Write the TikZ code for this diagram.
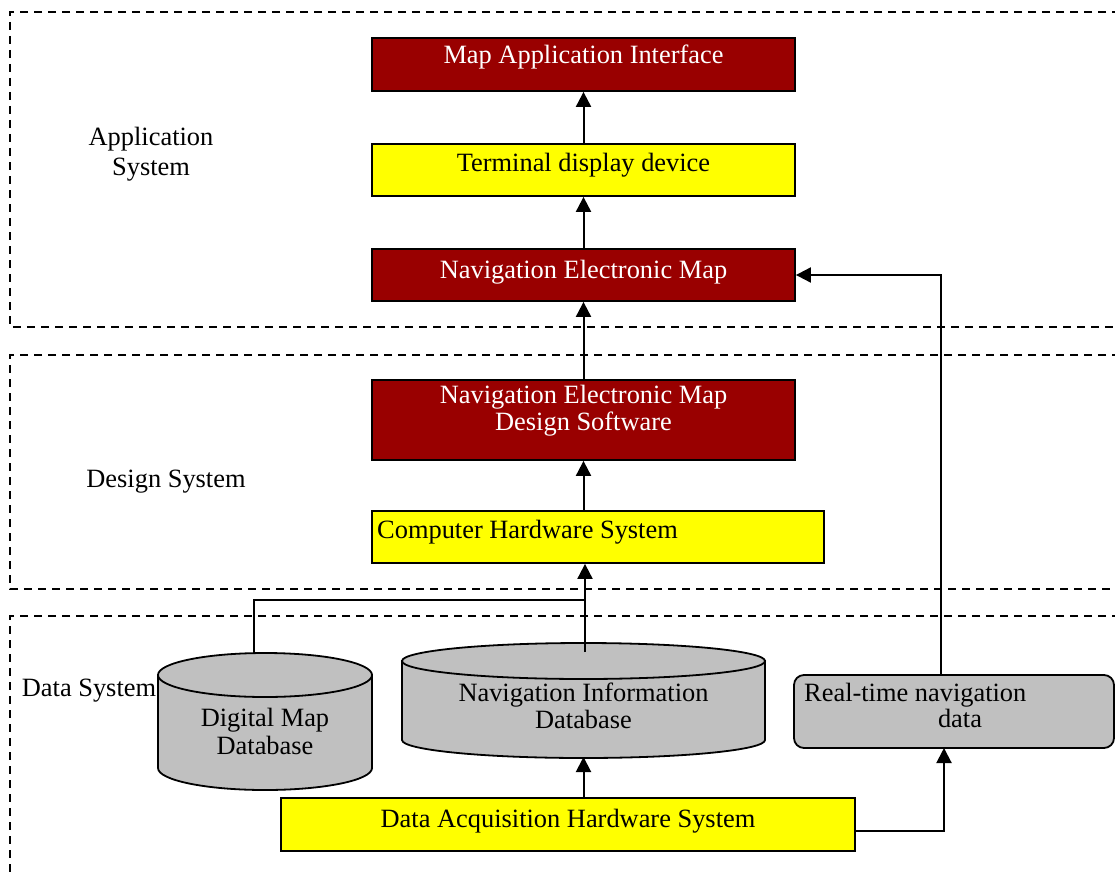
\documentclass[tikz,border=0pt]{standalone}
\usepackage{fontspec}
\setmainfont{Liberation Serif}
\usetikzlibrary{arrows.meta,calc}
\definecolor{dred}{HTML}{990000}
\definecolor{ylw}{HTML}{FFFF00}
\definecolor{gry}{HTML}{C0C0C0}
\begin{document}
\begin{tikzpicture}[x=1pt,y=-1pt,
  box/.style={draw=black,line width=1.8pt,inner sep=0pt},
  redbox/.style={box,fill=dred},
  ylwbox/.style={box,fill=ylw},
  txt/.style={font=\fontsize{26.4}{28}\selectfont,inner sep=0pt},
  ol/.style={txt,text height=18pt,text depth=6pt},
  ml/.style={txt,align=center},
  zone/.style={draw=black,line width=1.8pt,dash pattern=on 8pt off 6pt},
  arr/.style={line width=2pt,-{Triangle[width=15pt,length=15pt]}},
  ln/.style={line width=2pt},
  cyl/.style={draw=black,line width=1.8pt,fill=gry},
]
\useasboundingbox (0,0) rectangle (1115,872);

% zones
\draw[zone] (1120,12) -- (10,12) -- (10,327) -- (1120,327);
\draw[zone] (1120,355) -- (10,355) -- (10,589) -- (1120,589);
\draw[zone] (1120,616) -- (10,616) -- (10,880);

% zone labels
\node[ml,font=\fontsize{26.4}{30}\selectfont] (lapp) at (151,154) {Application\strut\\System\strut};
\node[ol] (ldes) at (166,481.5) {Design System};
\node[ol] (ldat) at (89,690.5) {Data System};

% boxes
\node[redbox,minimum width=423pt,minimum height=53pt] (mai) at (583.5,64.5) {};
\node[ol,text=white] (maitxt) at (583.5,58) {Map Application Interface};
\node[ylwbox,minimum width=423pt,minimum height=52pt] (term) at (583.5,170) {};
\node[ol] (termtxt) at (583.5,165.5) {Terminal display device};
\node[redbox,minimum width=423pt,minimum height=52pt] (nem) at (583.5,275) {};
\node[ol,text=white] (nemtxt) at (583.5,272.5) {Navigation Electronic Map};
\node[redbox,minimum width=423pt,minimum height=80pt] (nemds) at (583.5,420) {};
\node[ml,text=white,font=\fontsize{26.4}{26}\selectfont] (nemdstxt) at (583.5,411.5) {Navigation Electronic Map\strut\\Design Software\strut};
\node[ylwbox,minimum width=452pt,minimum height=52pt] (chs) at (598,537) {};
\node[ol,anchor=west] (chstxt) at (377,532.5) {Computer Hardware System};
\node[ylwbox,minimum width=574pt,minimum height=53pt] (dahs) at (568,824.5) {};
\node[ol] (dahstxt) at (568,821.5) {Data Acquisition Hardware System};
\node[box,fill=gry,rounded corners=10pt,minimum width=320pt,minimum height=73pt] (rt) at (954,711.5) {};
\node[ol,anchor=west] (rttxt1) at (804,695.5) {Real-time navigation};
\node[ol] (rttxt2) at (960,721.5) {data};

% cylinders
\path[cyl] (158,675) -- (158,768) arc[start angle=180,end angle=360,x radius=107pt,y radius=22pt] -- (372,675) -- cycle;
\path[cyl] (265,675) ellipse [x radius=107pt,y radius=22pt];
\node[minimum width=214pt,minimum height=137pt,inner sep=0pt] (dm) at (265,721.5) {};
\node[ml] (dmtxt) at (265,735) {Digital Map\strut\\Database\strut};

\path[cyl] (402,661) -- (402,740) arc[start angle=180,end angle=360,x radius=181.5pt,y radius=18pt] -- (765,661) -- cycle;
\path[cyl] (583.5,661) ellipse [x radius=181.5pt,y radius=18pt];
\node[minimum width=363pt,minimum height=115pt,inner sep=0pt] (nid) at (583.5,700.5) {};
\node[ml,font=\fontsize{26.4}{27}\selectfont] (nidtxt) at (583.5,709.5) {Navigation Information\strut\\Database\strut};

% connector points
\coordinate (dmtop) at (254,653);
\coordinate (nidtop) at (585,652);
\coordinate (junc) at (585,600);
\coordinate (nidbot) at (583.5,757);
\coordinate (rtin) at (944,748);
\coordinate (rtout) at (941,675);
\coordinate (dahsout) at (855,831);

% connectors
\draw[arr] (term.north) -- (mai.south);
\draw[arr] (nem.north) -- (term.south);
\draw[arr] (nemds.north) -- (nem.south);
\draw[arr] (nemds.south |- chs.north) -- (nemds.south);
\draw[arr] (nidtop) -- (nidtop |- chs.south);
\draw[ln] (dmtop) |- (junc);
\draw[arr] (nidbot |- dahs.north) -- (nidbot);
\draw[arr] (dahsout) -| (rtin);
\draw[arr] (rtout) |- (nem.east);
\end{tikzpicture}
\end{document}
